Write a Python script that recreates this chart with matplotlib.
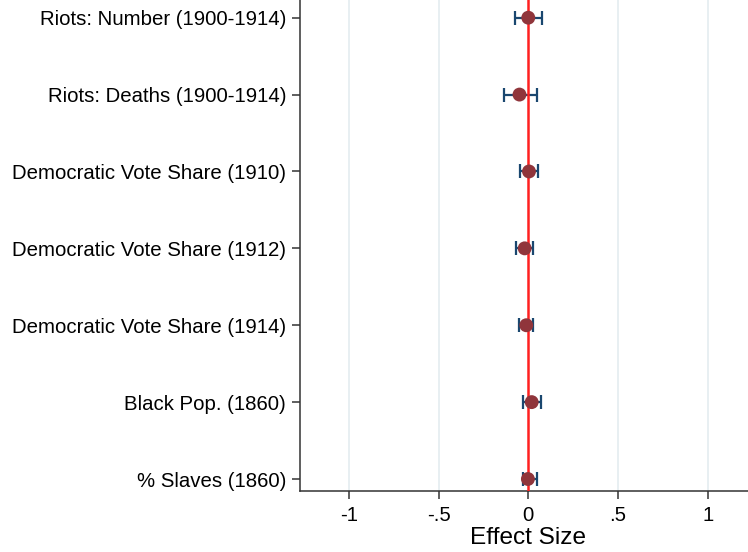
import numpy as np
import matplotlib.pyplot as plt

# Outcome labels, point estimates and 95% confidence bounds
outcomes = ['Riots: Number (1900-1914)', 'Riots: Deaths (1900-1914)',
            'Democratic Vote Share (1910)', 'Democratic Vote Share (1912)',
            'Democratic Vote Share (1914)', 'Black Pop. (1860)', '% Slaves (1860)']
coef = [0.000, -0.049, 0.004, -0.020, -0.011, 0.019, -0.002]
ci_low = [-0.075, -0.136, -0.045, -0.070, -0.052, -0.028, -0.032]
ci_high = [0.075, 0.046, 0.052, 0.028, 0.026, 0.069, 0.046]
xticks = [-1, -0.5, 0, 0.5, 1]
xtick_labels = ['-1', '-.5', '0', '.5', '1']

plt.rcParams['font.family'] = ['Liberation Sans', 'DejaVu Sans']

coef = np.array(coef)
lo = coef - np.array(ci_low)
hi = np.array(ci_high) - coef
ypos = np.arange(len(outcomes))[::-1] + 1

fig = plt.figure(figsize=(7.48, 5.52), dpi=100)
ax = fig.add_axes([0.401, 0.1105, 0.599, 0.8895])

for xt in xticks:
    if xt != 0:
        ax.axvline(xt, color='#e6eef1', lw=1.3, zorder=0)

ax.errorbar(coef, ypos, xerr=[lo, hi], fmt='none', ecolor='#1a476f',
            elinewidth=1.6, capsize=5, capthick=1.6, zorder=2)
ax.axvline(0, color='#ff2020', lw=1.8, zorder=3)
ax.scatter(coef, ypos, s=100, color='#90353b', zorder=4, edgecolors='none')

ax.set_xlim(-1.273, 1.225)
ax.set_ylim(0.844, 7.23)
ax.set_xticks(xticks)
ax.set_xticklabels(xtick_labels)
ax.set_yticks(ypos)
ax.set_yticklabels(outcomes)
ax.tick_params(axis='both', labelsize=14.7, length=6, width=1.1, color='#333333', pad=4)
ax.tick_params(axis='x', pad=5)
ax.set_xlabel('Effect Size', fontsize=17.6, labelpad=1)
ax.xaxis.label.set_x(0.508)

ax.spines['top'].set_visible(False)
ax.spines['right'].set_visible(False)
for s in ['left', 'bottom']:
    ax.spines[s].set_color('#333333')
    ax.spines[s].set_linewidth(1.1)

fig.savefig('out.png', dpi=100)
